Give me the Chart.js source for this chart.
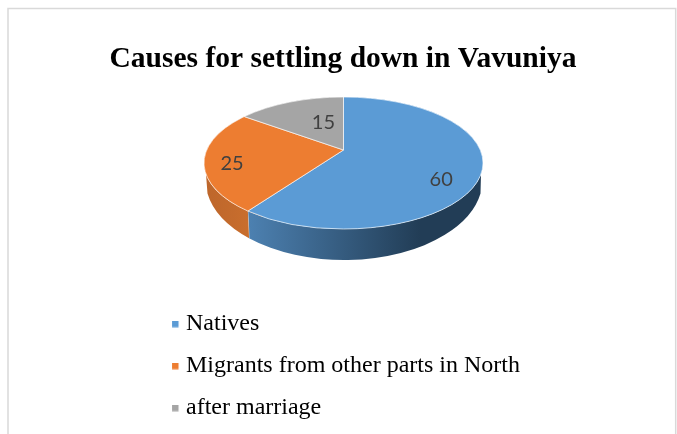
<!DOCTYPE html>
<html><head><meta charset="utf-8">
<script src="https://cdn.jsdelivr.net/npm/chart.js@4"></script>
<style>html,body{margin:0;padding:0;background:#fff}canvas{display:block}</style>
</head><body><canvas id="c" width="677" height="434"></canvas>
<script>
const categories = ["Natives", "Migrants from other parts in North", "after marriage"];
const values = [60, 25, 15];
const colors = ["#5b9bd5", "#ed7d31", "#a5a5a5"];
const chartTitle = "Causes for settling down in Vavuniya";

const G = {ex:343.5, ey:163, rx:139.5, ry:66, a:-0.197, bx:344, by:180, brx:138.5, bry:80, trim:0.17};
const LABEL_PLACE = [{f:.705,dy:15},{f:.8,dy:5},{f:.38,dy:-9}];

function proj(ang){
  const x=Math.cos(ang), y=Math.sin(ang), d=1+G.a*y, s=Math.sqrt(1-G.a*G.a);
  const u=x*s/d, v=(y+G.a)/d;
  return {u,v,phi:Math.atan2(v,u),x:G.ex+G.rx*u,y:G.ey+G.ry*v};
}
function swatch(color){
  const c=document.createElement('canvas');c.width=14;c.height=7;
  const k=c.getContext('2d');k.fillStyle=color;k.fillRect(5,0,6.5,6.5);return c;
}
function unwrap(a,b){while(b<a)b+=2*Math.PI;return b;}
const pie3d={
  id:'pie3d',
  beforeDraw(chart){
    const c=chart.ctx;c.save();c.fillStyle='#fff';c.fillRect(0,0,chart.width,chart.height);
    c.strokeStyle='#d9d9d9';c.lineWidth=1.5;c.beginPath();
    c.moveTo(8,chart.height);c.lineTo(8,8.5);c.lineTo(675.7,8.5);c.lineTo(675.7,chart.height);c.stroke();c.restore();
  },
  afterLayout(chart){
    const l=chart.legend;
    const h=l.height,left=156,top=294.2;
    l.left=left;l.right=chart.width;l.width=chart.width-left;l.top=top;l.bottom=top+h;
  },
  beforeDatasetDraw(chart){
    const c=chart.ctx, arcs=chart.getDatasetMeta(0).data;
    arcs.forEach((el,i)=>{
      const p1=proj(el.startAngle).phi; const p2=unwrap(p1,proj(el.endAngle).phi);
      const lo=G.trim, hi=Math.PI-G.trim;
      const s=Math.max(p1,lo), e=Math.min(p2,hi);
      const s2=Math.max(p1-2*Math.PI,lo), e2=Math.min(p2-2*Math.PI,hi);
      const from=e>s?s:s2, to=e>s?e:e2;
      if(!(to>from))return;
      c.save();c.beginPath();
      c.ellipse(G.ex,G.ey,G.rx,G.ry,0,from,to);
      c.ellipse(G.bx,G.by,G.brx,G.bry,0,to,from,true);
      c.closePath();
      let g;
      if(i===0){g=c.createLinearGradient(250,0,420,0);g.addColorStop(0,'#4c80b0');g.addColorStop(1,'#223d56');}
      else{g=c.createLinearGradient(205,0,250,0);g.addColorStop(0,'#bd662b');g.addColorStop(1,'#c96e2d');}
      c.fillStyle=g;c.fill();
      if(i===0){
        c.strokeStyle='rgba(255,255,255,.6)';c.lineWidth=1;c.beginPath();
        c.moveTo(G.ex+G.rx*Math.cos(to),G.ey+G.ry*Math.sin(to));
        c.lineTo(G.bx+G.brx*Math.cos(to),G.by+G.bry*Math.sin(to));c.stroke();
      }
      c.restore();
    });
    const el=arcs[0];
    c.save();c.translate(G.ex,G.ey);c.scale(G.rx/el.outerRadius,G.ry/el.outerRadius);c.translate(-el.x,-el.y);
  },
  afterDatasetDraw(chart){
    const c=chart.ctx, arcs=chart.getDatasetMeta(0).data;
    c.restore();
    const ax=G.ex, ay=G.ey+G.ry*G.a;
    arcs.forEach((el,i)=>{
      const a=proj(el.startAngle), b=proj(el.endAngle);
      c.save();c.beginPath();c.moveTo(ax,ay);c.lineTo(a.x,a.y);
      c.ellipse(G.ex,G.ey,G.rx,G.ry,0,a.phi,unwrap(a.phi,b.phi));c.closePath();
      c.fillStyle=el.options.backgroundColor;c.fill();
      c.strokeStyle='rgba(255,255,255,.65)';c.lineWidth=1;c.stroke();c.restore();
    });
    arcs.forEach((el,i)=>{
      const m=proj((el.startAngle+el.endAngle)/2), pl=LABEL_PLACE[i];
      c.save();c.font='20px Lato';c.fillStyle='#404040';c.textAlign='center';c.textBaseline='middle';
      c.fillText(String(values[i]),ax+(m.x-ax)*pl.f,ay+(m.y-ay)*pl.f+pl.dy);c.restore();
    });
  }
};
new Chart(document.getElementById('c'),{
  type:'pie',
  data:{labels:categories,datasets:[{data:values,backgroundColor:colors,borderWidth:0}]},
  plugins:[pie3d],
  options:{
    responsive:false,animation:false,
    layout:{padding:{left:9}},
    plugins:{
      tooltip:{enabled:false},
      title:{display:true,text:chartTitle,color:'#000',
        font:{family:'"Liberation Serif"',size:29.5,weight:'bold'},padding:{top:42,bottom:7}},
      legend:{position:'left',align:'start',
        labels:{color:'#000',font:{family:'"Liberation Serif"',size:24},padding:18,
          usePointStyle:true,boxWidth:0.01,boxHeight:7,
          generateLabels(chart){
            return Chart.overrides.pie.plugins.legend.labels.generateLabels(chart).map(it=>({...it,pointStyle:swatch(it.fillStyle)}));
          }}}
    }
  }
});
</script></body></html>
